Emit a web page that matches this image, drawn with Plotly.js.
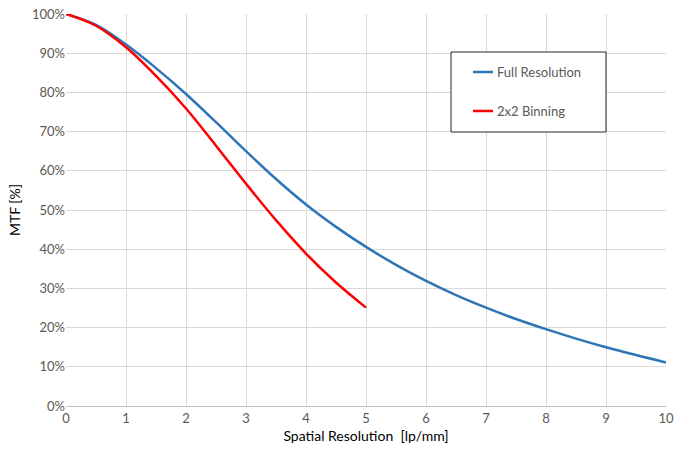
<!DOCTYPE html>
<html>
<head>
<meta charset="utf-8">
<script src="https://cdn.plot.ly/plotly-3.0.1.min.js"></script>
<style>html,body{margin:0;padding:0;background:#fff;}#chart{width:674px;height:458px;}</style>
</head>
<body>
<div id="chart"></div>
<script>
const fullX = [0, 0.5, 1, 1.5, 2, 2.5, 3, 3.5, 4, 4.5, 5, 5.5, 6, 6.5, 7, 7.5, 8, 8.5, 9, 9.5, 10];
const fullY = [100, 97.2, 92.2, 86.2, 79.6, 72.4, 65.0, 57.9, 51.4, 45.7, 40.6, 36.0, 31.9, 28.3, 25.1, 22.2, 19.6, 17.2, 15.0, 13.0, 11.1];
const binX = [0, 0.5, 1, 1.5, 2, 2.5, 3, 3.5, 4, 4.5, 5];
const binY = [100, 97.0, 91.5, 84.2, 75.9, 66.4, 56.7, 47.4, 38.9, 31.5, 25.1];
const xTicks = [0, 1, 2, 3, 4, 5, 6, 7, 8, 9, 10];
const yTicks = [0, 10, 20, 30, 40, 50, 60, 70, 80, 90, 100];
const yTickText = yTicks.map(v => v + '%');

const font = "Lato, 'Open Sans', sans-serif";
const traces = [
  {x: fullX, y: fullY, name: 'Full Resolution', mode: 'lines',
   line: {color: '#2e75b6', width: 2.5, shape: 'spline', smoothing: 1}},
  {x: binX, y: binY, name: '2x2 Binning', mode: 'lines',
   line: {color: '#ff0000', width: 2.5, shape: 'spline', smoothing: 1}}
];
const L = 66, R = 666, T = 14, B = 406;
const px = v => (v - L) / (R - L);
const py = v => (B - v) / (B - T);
const layout = {
  width: 674, height: 458,
  margin: {l: L, r: 674 - R, t: T, b: 458 - B},
  paper_bgcolor: '#fff', plot_bgcolor: '#fff',
  font: {family: font, size: 13, color: '#595959'},
  showlegend: false,
  xaxis: {range: [0, 10], tickvals: xTicks, ticktext: xTicks.map(String),
    showgrid: true, gridcolor: '#d9d9d9', gridwidth: 1, zeroline: false,
    showline: true, linecolor: '#bfbfbf', linewidth: 1, ticks: '', ticklen: 0,
    tickfont: {size: 13, color: '#595959'},
    title: {text: 'Spatial Resolution  [lp/mm]', font: {size: 14, color: '#000'}, standoff: 6}},
  yaxis: {range: [0, 100], tickvals: yTicks, ticktext: yTickText,
    showgrid: true, gridcolor: '#d9d9d9', gridwidth: 1, zeroline: false,
    showline: false, ticks: '', tickfont: {size: 13, color: '#595959'},
    title: {text: 'MTF [%]', font: {size: 14, color: '#000'}, standoff: 8}},
  shapes: [
    {type: 'rect', xref: 'paper', yref: 'paper', x0: px(451), x1: px(606),
     y0: py(132), y1: py(52), line: {color: '#262626', width: 1}, fillcolor: '#fff', layer: 'above'},
    {type: 'line', xref: 'paper', yref: 'paper', x0: px(473), x1: px(493),
     y0: py(72), y1: py(72), line: {color: '#2e75b6', width: 2.5}},
    {type: 'line', xref: 'paper', yref: 'paper', x0: px(473), x1: px(493),
     y0: py(111), y1: py(111), line: {color: '#ff0000', width: 2.5}}
  ],
  annotations: [
    {xref: 'paper', yref: 'paper', x: px(495), y: py(72), xanchor: 'left', yanchor: 'middle',
     text: traces[0].name, showarrow: false, font: {size: 13, color: '#595959'}},
    {xref: 'paper', yref: 'paper', x: px(495), y: py(111), xanchor: 'left', yanchor: 'middle',
     text: traces[1].name, showarrow: false, font: {size: 13, color: '#595959'}}
  ]
};
Plotly.newPlot('chart', traces, layout, {displayModeBar: false, staticPlot: true});
</script>
</body>
</html>
